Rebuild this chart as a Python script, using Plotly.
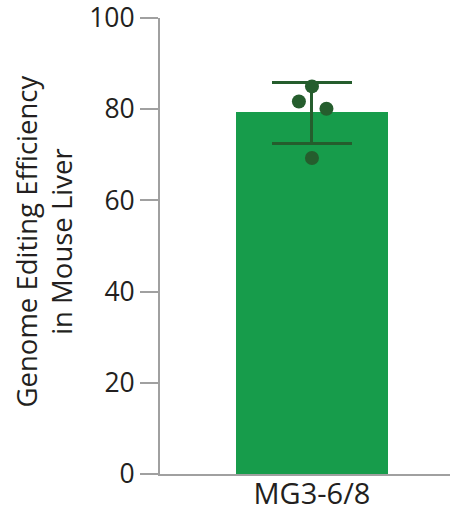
import plotly.graph_objects as go

categories = ["MG3-6/8"]
means = [79.4]
err_plus = [6.4]
err_minus = [7.0]
point_values = [85.0, 81.7, 80.1, 69.3]
point_offsets = [0.0, -0.045, 0.05, 0.0]
y_ticks = [0, 20, 40, 60, 80, 100]
y_title = "Genome Editing Efficiency<br>in Mouse Liver"

BAR = "#179c4b"
DARK = "#255d2d"
AXIS = "#a0a0a0"
TEXT = "#231f20"
FONT = "Open Sans"

fig = go.Figure()
fig.add_trace(go.Bar(
    x=[0], y=means, width=[0.524],
    marker=dict(color=BAR, line=dict(width=0)),
    error_y=dict(type="data", symmetric=False, array=err_plus, arrayminus=err_minus,
                 color=DARK, thickness=3, width=40),
    showlegend=False,
))
fig.add_trace(go.Scatter(
    x=point_offsets, y=point_values, mode="markers",
    marker=dict(color=DARK, size=14, line=dict(width=0)),
    showlegend=False,
))

fig.update_layout(
    width=450, height=511,
    margin=dict(l=160, r=0, t=18, b=37, autoexpand=False),
    plot_bgcolor="white", paper_bgcolor="white",
    font=dict(family=FONT, color=TEXT, size=26),
    bargap=0,
)
fig.update_xaxes(
    range=[-0.524, 0.476], tickvals=[0], ticktext=categories, automargin=False,
    showline=True, linecolor=AXIS, linewidth=2, ticks="", showgrid=False,
    zeroline=False, tickfont=dict(size=29, family=FONT, color=TEXT),
    ticklabeloverflow="allow", ticklabelstandoff=-7,
)
fig.update_yaxes(
    range=[0, 100], tickvals=y_ticks, showline=True, linecolor=AXIS, linewidth=2,
    automargin=False, ticklabeloverflow="allow",
    ticks="outside", ticklen=18, tickcolor=AXIS, tickwidth=2, showgrid=False,
    zeroline=False, tickfont=dict(size=26.5, family=FONT, color=TEXT),
)
fig.add_annotation(
    text=y_title, xref="paper", yref="paper", x=-0.40, y=0.51,
    xanchor="center", yanchor="middle", textangle=-90, showarrow=False,
    font=dict(size=27.5, family=FONT, color=TEXT),
)
fig.write_html(
    "out.html",
    config={"displayModeBar": False},
    post_script="document.body.style.margin='0px';document.body.style.overflow='hidden';",
)
